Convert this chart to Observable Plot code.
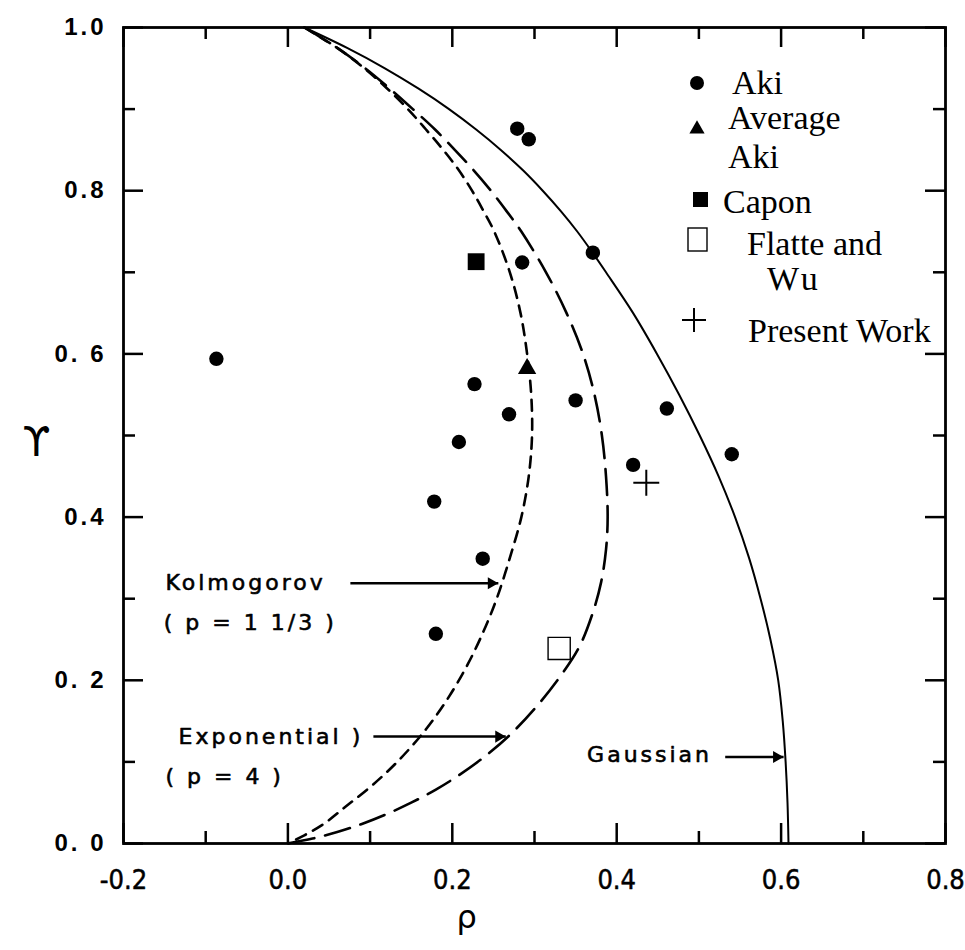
<!DOCTYPE html>
<html><head><meta charset="utf-8">
<script src="https://cdn.jsdelivr.net/npm/d3@7"></script>
<script src="https://cdn.jsdelivr.net/npm/@observablehq/plot@0.6"></script>
<style>
html,body{margin:0;padding:0;background:#fff}
#chart{position:relative;width:965px;height:950px}
</style>
</head><body><div id="chart"></div>
<script>
// ---- data ----
const akiRho   = [0.279, 0.293, 0.285, 0.371, -0.087, 0.227, 0.269, 0.350, 0.461, 0.208, 0.420, 0.540, 0.178, 0.237, 0.180];
const akiGamma = [0.876, 0.863, 0.712, 0.724,  0.594, 0.563, 0.526, 0.543, 0.533, 0.492, 0.464, 0.477, 0.419, 0.349, 0.257];
const avgAkiRho = [0.291],  avgAkiGamma = [0.582];
const caponRho = [0.229],   caponGamma = [0.713];
const flatteRho = [0.330],  flatteGamma = [0.239];
const presentRho = [0.436], presentGamma = [0.442];

const gaussRho   = [0.020, 0.072, 0.118, 0.159, 0.196, 0.229, 0.259, 0.286, 0.310, 0.332, 0.352, 0.370, 0.387, 0.420, 0.449, 0.476, 0.501, 0.524, 0.544, 0.561, 0.575, 0.587, 0.5965, 0.602, 0.6055, 0.6078, 0.609];
const gaussGamma = [1.000, 0.975, 0.950, 0.925, 0.900, 0.875, 0.850, 0.825, 0.800, 0.775, 0.750, 0.725, 0.700, 0.650, 0.600, 0.550, 0.500, 0.450, 0.400, 0.350, 0.300, 0.250, 0.200, 0.150, 0.100, 0.050, 0.000];

const expRho   = [0.020, 0.060, 0.094, 0.124, 0.152, 0.179, 0.203, 0.226, 0.247, 0.266, 0.284, 0.314, 0.339, 0.359, 0.373, 0.382, 0.387, 0.389, 0.387, 0.381, 0.370, 0.354, 0.330, 0.300, 0.270, 0.240, 0.210, 0.180, 0.150, 0.120, 0.090, 0.060, 0.030, 0.000];
const expGamma = [1.000, 0.975, 0.950, 0.925, 0.900, 0.875, 0.850, 0.825, 0.800, 0.775, 0.750, 0.700, 0.650, 0.600, 0.550, 0.500, 0.450, 0.400, 0.360, 0.320, 0.280, 0.240, 0.203, 0.165, 0.133, 0.107, 0.085, 0.066, 0.050, 0.036, 0.024, 0.014, 0.006, 0.000];

const kolRho   = [0.020, 0.060, 0.093, 0.121, 0.146, 0.168, 0.189, 0.208, 0.224, 0.238, 0.251, 0.270, 0.283, 0.291, 0.296, 0.297, 0.293, 0.284, 0.270, 0.254, 0.238, 0.219, 0.196, 0.168, 0.133, 0.101, 0.070, 0.045, 0.020, 0.000];
const kolGamma = [1.000, 0.975, 0.950, 0.925, 0.900, 0.875, 0.850, 0.825, 0.800, 0.775, 0.750, 0.700, 0.650, 0.600, 0.550, 0.500, 0.450, 0.400, 0.350, 0.300, 0.260, 0.220, 0.180, 0.140, 0.100, 0.070, 0.045, 0.025, 0.010, 0.000];

const xMajorTicks = [-0.2, 0.0, 0.2, 0.4, 0.6, 0.8];
const xTickLabels = ["-0.2", "0.0", "0.2", "0.4", "0.6", "0.8"];
const xMinorTicks = [-0.1, 0.1, 0.3, 0.5, 0.7];
const yMajorTicks = [0.0, 0.2, 0.4, 0.6, 0.8, 1.0];
const yTickLabels = ["0. 0", "0. 2", "0.4", "0. 6", "0.8", "1.0"];
const yMinorTicks = [0.1, 0.3, 0.5, 0.7, 0.9];

const noteText  = ["Kolmogorov", "( p = 1 1/3 )", "Exponential )", "( p = 4 )", "Gaussian"];
const noteRho   = [-0.149, -0.151, -0.133, -0.149, 0.364];
const noteGamma = [0.319, 0.270, 0.131, 0.082, 0.108];
const arrowFromRho = [0.076, 0.104, 0.532];
const arrowToRho   = [0.256, 0.265, 0.603];
const arrowGamma   = [0.319, 0.131, 0.106];

const legendLabels = ["Aki", "Average", "Aki", "Capon", "Flatte and", "Wu", "Present Work"];
const xTitle = "ρ", yTitle = "ϒ";

// ---- layout ----
const W = 965, H = 950, mL = 123, mR = 20, mT = 27, mB = 107;
const pw = W - mL - mR, ph = H - mT - mB;
const zip = (xs, ys) => xs.map((x, i) => ({x, y: ys[i]}));
const idx = a => a.map((_, i) => i);
const major = 20, minor = 12;

const arrows = idx(arrowFromRho);
const svg = Plot.plot({
  width: W, height: H,
  marginLeft: mL, marginRight: mR, marginTop: mT, marginBottom: mB,
  x: {domain: [-0.2, 0.8], axis: null},
  y: {domain: [0, 1], axis: null},
  style: {fontFamily: "DejaVu Sans", background: "white", color: "black"},
  marks: [
    // ticks on all four sides (inward)
    Plot.tickX(xMajorTicks, {x: d => d, insetTop: ph - major, strokeWidth: 2.5}),
    Plot.tickX(xMinorTicks, {x: d => d, insetTop: ph - minor, strokeWidth: 2.5}),
    Plot.tickX(xMajorTicks, {x: d => d, insetBottom: ph - major, strokeWidth: 2.5}),
    Plot.tickX(xMinorTicks, {x: d => d, insetBottom: ph - minor, strokeWidth: 2.5}),
    Plot.tickY(yMajorTicks, {y: d => d, insetRight: pw - major, strokeWidth: 2.5}),
    Plot.tickY(yMinorTicks, {y: d => d, insetRight: pw - minor, strokeWidth: 2.5}),
    Plot.tickY(yMajorTicks, {y: d => d, insetLeft: pw - major, strokeWidth: 2.5}),
    Plot.tickY(yMinorTicks, {y: d => d, insetLeft: pw - minor, strokeWidth: 2.5}),
    Plot.frame({stroke: "black", strokeWidth: 2.8}),
    // tick labels
    Plot.text(idx(xMajorTicks), {x: i => xMajorTicks[i], text: i => xTickLabels[i], frameAnchor: "bottom", dy: 45,
      fontSize: 27, fontFamily: "DejaVu Sans Condensed, Liberation Sans Narrow, sans-serif",
      fill: "black", stroke: "black", strokeWidth: 0.5, ariaDescription: "xtick"}),
    Plot.text(idx(yMajorTicks), {y: i => yMajorTicks[i], text: i => yTickLabels[i], frameAnchor: "left", textAnchor: "end", dx: -17,
      fontSize: 24, fontWeight: "bold", fontFamily: "Liberation Sans, sans-serif", fill: "black", ariaDescription: "ytick"}),
    // axis titles
    Plot.text([xTitle], {text: d => d, frameAnchor: "bottom-left", dx: 333, dy: 84, fontSize: 32, fontFamily: "DejaVu Sans", fill: "black"}),
    Plot.text([yTitle], {text: d => d, frameAnchor: "left", dx: -101, dy: 8, fontSize: 40, fontFamily: "DejaVu Sans", fill: "black"}),
    // theory curves
    Plot.line(zip(gaussRho, gaussGamma), {x: "x", y: "y", stroke: "black", strokeWidth: 2, curve: "catmull-rom"}),
    Plot.line(zip(expRho, expGamma), {x: "x", y: "y", stroke: "black", strokeWidth: 2.6, strokeDasharray: "26,11", curve: "catmull-rom"}),
    Plot.line(zip(kolRho, kolGamma), {x: "x", y: "y", stroke: "black", strokeWidth: 2.6, strokeDasharray: "11,8", curve: "catmull-rom"}),
    // annotations
    Plot.text(idx(noteText), {x: i => noteRho[i], y: i => noteGamma[i], text: i => noteText[i], textAnchor: "start",
      fontSize: 22, fontFamily: "DejaVu Sans", fill: "black", stroke: "black", strokeWidth: 0.6, ariaDescription: "note"}),
    Plot.link(arrows, {x1: i => arrowFromRho[i], x2: i => arrowToRho[i], y1: i => arrowGamma[i], y2: i => arrowGamma[i], stroke: "black", strokeWidth: 2.5}),
    Plot.dot(arrows, {x: i => arrowToRho[i], y: i => arrowGamma[i], symbol: "triangle", r: 4.5, rotate: 90, dx: -7, fill: "black", stroke: "none"}),
    // observations
    Plot.dot(zip(akiRho, akiGamma), {x: "x", y: "y", r: 7.2, fill: "black", stroke: "none"}),
    Plot.dot(zip(avgAkiRho, avgAkiGamma), {x: "x", y: "y", symbol: "triangle", r: 6.8, fill: "black", stroke: "none"}),
    Plot.dot(zip(caponRho, caponGamma), {x: "x", y: "y", symbol: "square", r: 9.5, fill: "black", stroke: "none"}),
    Plot.dot(zip(flatteRho, flatteGamma), {x: "x", y: "y", symbol: "square", r: 12.5, fill: "white", stroke: "black", strokeWidth: 1.4}),
    Plot.dot(zip(presentRho, presentGamma), {x: "x", y: "y", symbol: "plus", r: 8.4, stroke: "black", strokeWidth: 2})
  ]
});
document.getElementById("chart").appendChild(svg);

const s = d3.select(svg);
s.selectAll("g[aria-description='ytick'] text").attr("letter-spacing", "3px");
s.selectAll("g[aria-description='note'] text").attr("letter-spacing", "3px");

// ---- legend (inside the frame, top right) ----
const lg = s.append("g").attr("font-family", "Liberation Serif, Times New Roman, serif").attr("font-size", 34)
  .attr("fill", "black").attr("text-anchor", "start");
lg.append("circle").attr("cx", 697).attr("cy", 83).attr("r", 7);
lg.append("path").attr("transform", "translate(697,129)").attr("d", d3.symbol(d3.symbolTriangle, 100)());
lg.append("rect").attr("x", 693).attr("y", 192).attr("width", 15).attr("height", 15);
lg.append("rect").attr("x", 688).attr("y", 228).attr("width", 19).attr("height", 23).attr("fill", "none").attr("stroke", "black").attr("stroke-width", 1.4);
lg.append("path").attr("d", "M682,320H706M694,308V332").attr("stroke", "black").attr("stroke-width", 2).attr("fill", "none");
const lpos = [[732, 94], [728, 129], [728, 168], [723, 213], [747, 255], [767, 290], [748, 342]];
legendLabels.forEach((t, i) => {
  lg.append("text").attr("x", lpos[i][0]).attr("y", lpos[i][1]).attr("letter-spacing", i === 5 ? "3px" : null).text(t);
});
</script>
</body></html>
